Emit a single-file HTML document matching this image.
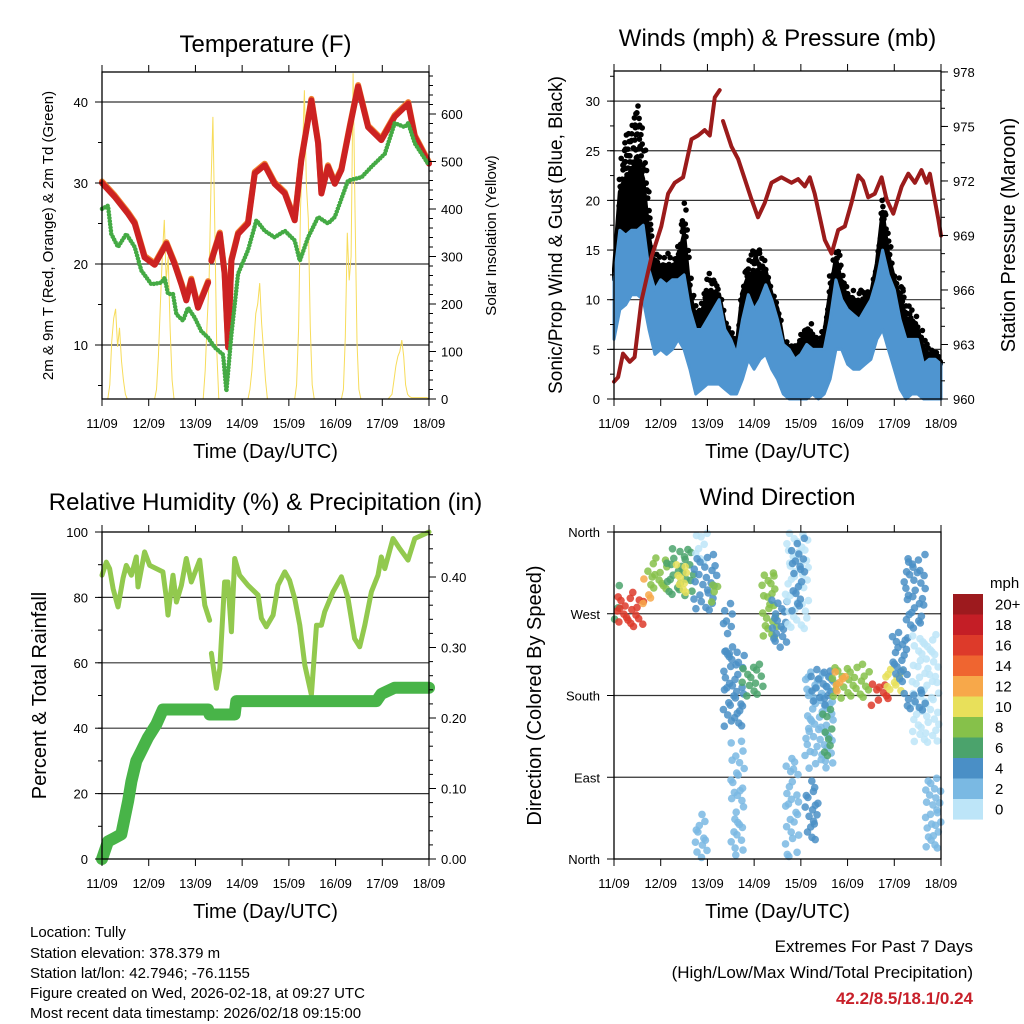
<!DOCTYPE html>
<html><head><meta charset="utf-8">
<style>
html,body{margin:0;padding:0;background:#fff;}
svg{display:block;font-family:"Liberation Sans",Arial,sans-serif;}
</style></head>
<body>
<svg id="c" width="1024" height="1024" viewBox="0 0 1024 1024" xmlns="http://www.w3.org/2000/svg">
<rect width="1024" height="1024" fill="#fff"/>
<g id="g1"></g>
<g id="g2"></g>
<g id="g3"></g>
<g id="g4"></g>
<g id="gl"></g>
<g font-size="15" fill="#000">
<text x="30" y="937">Location: Tully</text>
<text x="30" y="958">Station elevation: 378.379 m</text>
<text x="30" y="978">Station lat/lon: 42.7946; -76.1155</text>
<text x="30" y="998">Figure created on Wed, 2026-02-18, at 09:27 UTC</text>
<text x="30" y="1018">Most recent data timestamp: 2026/02/18 09:15:00</text>
</g>
<g font-size="17" text-anchor="end">
<text x="973" y="952">Extremes For Past 7 Days</text>
<text x="973" y="978">(High/Low/Max Wind/Total Precipitation)</text>
<text x="973" y="1004" fill="#c8202a" font-weight="bold">42.2/8.5/18.1/0.24</text>
</g>
</svg>
<script>
const dayLabels = ["11/09","12/09","13/09","14/09","15/09","16/09","17/09","18/09"];
const tempHour = [0,6.5,13.4,16.8,21.9,27.1,33.1,37.3,40.8,43.3,45.9,49.3,54.5,55.3,56.2,60.5,63,64.8,66.5,69.9,75,78.5,83.6,88.7,93.9,99,102.4,107.6,111,112.7,116.1,119.6,123,127.3,131.6,136.7,143.5,150.4,157.3,160.7,168];
const tempVal = [30,28.3,26.2,25,20.8,19.9,22.5,20,17.5,15.5,18,14.6,17.7,null,20.4,23.7,18.8,9.7,20.4,23.7,25,31.2,32.2,29.9,28.7,25.4,32.8,40.2,34.9,28.7,32,29.9,31.6,36.9,41.9,36.9,35.3,38.2,39.8,35.7,32.4];
const dewHour = [0,3.1,4.8,8.2,12.5,16.8,20.2,25.4,30.5,32.2,33.9,36.5,38.2,41.6,44.2,47.6,51,54.5,57.9,62.2,63.9,66.5,69.9,75,79.3,83.6,88.7,93.9,99,101.6,105.9,111,116.1,119.6,126.4,133.3,138.4,145.3,150.4,155.5,157.3,160.7,168];
const dewVal = [26.8,27.2,23.7,22.1,23.7,22.1,19.2,17.5,17.7,18.3,16.3,16.3,13.8,13,14.6,13.4,11.7,10.9,9.7,8.8,4.3,11.3,18.8,21.7,25.4,24.1,23.3,24.1,22.9,20.4,23.3,25.8,25,25.8,30.3,30.7,32,33.6,37.4,36.9,37.4,34.9,32.2];
const solar = [
0,0,0,0,30,120,170,190,110,150,80,40,10,0,0,0,0,0,0,0,0,0,0,0,
0,0,0,0,20,90,200,300,377,250,300,150,40,0,0,0,0,0,0,0,0,0,0,0,
0,0,0,0,0,60,160,250,450,594,350,100,0,0,0,0,0,0,0,0,0,0,0,0,
0,0,0,0,20,60,120,180,200,244,160,100,40,0,0,0,0,0,0,0,0,0,0,0,
0,0,0,0,30,150,400,520,650,450,380,150,30,0,0,0,0,0,0,0,0,0,0,0,
0,0,0,0,20,130,350,250,300,686,400,120,20,0,0,0,0,0,0,0,0,0,0,0,
0,0,0,0,5,10,40,70,90,100,124,90,30,10,5,3,3,3,3,3,3,3,3,3,
0];
const windLo = [6,9,9.5,10.5,10.5,10,7,4.5,5,4.5,5,6,5,3,0.5,1,1.5,1.5,1.5,1,0.5,0.5,2,4,3,4,4.5,3,2,0.5,0,0,0,0,0.5,0,0.5,2,5,5,3.5,3,3,3.5,4,6,7,5,3,1,0,0.5,0.5,0,0,0,0];
const windHi = [12,17,16.5,17,17,17.5,13,11,12,11.5,12,12,12.5,9,7,7,8,9,10,7,6,4.5,8,10.5,9,10,11.5,10,8,5.5,5,4,4.5,5.5,5,5,5,8,12,10,9,8.5,8,9,10,12,15,12.5,11,8,6,6,6,3.5,4,4,3.5];
const gustHi = [14,24,27,28,30,26,19,15,14,15,14,16,20,12,9,10,13,12,11,8,7,6,13,14,16,15,14,11,10,6,5.5,6,7,8,7.5,6,8,13,16,13,11,11,11,11,11,15,22,16,13,12,10,9,8,6,5,5,4];
const presHour = [0,2.1,4.6,8.1,10.6,14.1,19.2,24.3,27.8,31.2,35.5,39.8,43.2,46.6,49.2,51.8,54.3,55,56,60.3,63.8,67.2,70.6,74,77.5,80.9,86,91.2,94.6,98,100.6,103.1,108.3,111.8,115.2,118.6,122,125.5,128,130.6,134,137.5,140,143.5,147.8,151.2,154.6,158,160.6,162.3,166.6,168];
const presVal = [960.95,961.2,962.5,962.05,962.3,965.4,967.8,969.5,971.3,971.9,972.2,974.3,974.5,974.8,974.5,976.6,977.0,null,975.3,973.9,973.2,972.1,971,970,970.8,971.9,972.2,971.9,972.1,971.7,972.2,971.3,968.75,968,969.3,969.5,970.8,972.3,972,971.1,971.3,972.2,971,970.2,971.7,972.4,971.9,972.6,971.9,972.4,969.9,969];
const rhHour = [0,2.2,3.9,5.7,8.2,10.8,12.5,15.1,17.6,18.5,21.9,24.5,27.9,31.3,33.1,33.9,36.5,38.2,40.8,43.3,45.9,50.2,52.8,55.3,55.8,56.2,58.8,60.5,63,64.7,66.5,68.2,70.7,75,80.2,81.9,84.4,87.9,90.4,93.9,96.4,99,101.6,104.2,107.6,110.2,112.7,114.4,118.7,123,126.4,129.8,132.4,135,138.4,141.8,143.5,145.3,149.5,153,157.2,160.7,168];
const rhVal = [86.8,90.8,88.8,82.7,77.1,85.8,89.8,86.8,92.4,83.2,93.9,89.8,88.8,87.8,79.7,74.6,86.8,78.6,83.7,91.9,84.7,91.4,77.6,73,null,62.9,52.2,58.3,84.7,84.7,69.5,91.9,86.8,83.7,80.7,73.6,71,74.6,83.7,87.8,85.2,79.7,71.5,59.3,50.2,71.5,71.5,75.6,81.7,86.3,79.7,67.4,64.9,71.5,81.7,86.8,92.4,88.8,98,94.9,91.4,98,100];
const rainHour = [0,3.1,6.5,9.9,13.4,15.1,17.6,20.2,23.6,27.9,31.3,54.5,55.3,68.2,69,141,143.5,150.4,168];
const rainVal = [0,0.025,0.03,0.035,0.082,0.11,0.139,0.153,0.172,0.191,0.212,0.212,0.205,0.205,0.224,0.224,0.234,0.243,0.243];
const dirT0 = [0,1,14,17,27,32,41,41,50,56,56,60,41,65,76,81,88,91,88,98,98,101,112,112,132,139,143,149,153,160,149,107];
const dirT1 = [3,16,19,28,41,38,48,53,55,61,67,67,48,77,84,89,100,98,95,113,105,113,132,119,141,149,151,160,167,168,160,112];
const dirD0 = [268,259,283,298,294,294,331,276,287,228,148,8,0,181,247,236,258,276,0,104,23,173,181,188,173,188,195,257,129,16,166,118];
const dirD1 = [298,289,305,327,338,320,360,331,305,283,228,126,45,210,312,283,360,349,111,203,82,206,210,203,192,206,246,331,243,85,184,162];
const dirSpd = [7,17,12,8,7,10,1,4,8,5,4,2,2,7,8,4,1,4,2,3,4,4,8,12,16,10,5,4,1,3,4,6];
const legendLabels = ["20+","18","16","14","12","10","8","6","4","2","0"];
const legendColors = ["#9d1a1e","#c41e26","#dd3a2a","#ef6530","#f7a84a","#e8e05a","#86c14a","#4ba36c","#4a8fc6","#7ab9e3","#bde5f8"];

const JIT=[0.1,0.7,0.35,0.9,0.55,0.2,0.8,0.45,0.05,0.6,0.3,0.95];
const NS="http://www.w3.org/2000/svg";
function mk(parent,tag,attrs,text){const e=document.createElementNS(NS,tag);for(const k in attrs)e.setAttribute(k,attrs[k]);if(text!==undefined)e.textContent=text;parent.appendChild(e);return e;}
function spdColor(s){let i=Math.min(10,Math.floor(s/2));return legendColors[10-i];}
function pathFrom(xs,ys,fx,fy){let d="",pen=false;for(let i=0;i<xs.length;i++){if(ys[i]===null){pen=false;continue;}d+=(pen?"L":"M")+fx(xs[i]).toFixed(1)+","+fy(ys[i]).toFixed(1);pen=true;}return d;}
function lerpArr(arr,t){const i=Math.min(arr.length-2,Math.floor(t/3));const f=(t-i*3)/3;return arr[i]+(arr[i+1]-arr[i])*f;}

function frame(g,P,cfg){
  cfg.grid.forEach(v=>{const l=mk(g,"line",{x1:P.L,x2:P.R,y1:cfg.yL(v),y2:cfg.yL(v),stroke:"#333","stroke-width":1.2});
    
    });
}
function axes(g,P,cfg){
  mk(g,"rect",{x:P.L,y:P.T,width:P.R-P.L,height:P.B-P.T,fill:"none",stroke:"#000","stroke-width":1.3});
  const xf=h=>P.L+h/168*(P.R-P.L);
  dayLabels.forEach((d,i)=>{const x=xf(i*24);
    mk(g,"line",{x1:x,x2:x,y1:P.B,y2:P.B+7,stroke:"#000"});
    mk(g,"line",{x1:x,x2:x,y1:P.T,y2:P.T-7,stroke:"#000"});
    const t=mk(g,"text",{x:x,y:P.B+29,"font-size":13,"text-anchor":"middle"},d);
    
    });
  const xt=mk(g,"text",{x:(P.L+P.R)/2,y:P.B+59,"font-size":20,"text-anchor":"middle"},"Time (Day/UTC)");
  
  
  cfg.lMinor.forEach(v=>mk(g,"line",{x1:P.L,x2:P.L-4,y1:cfg.yL(v),y2:cfg.yL(v),stroke:"#000"}));
  cfg.lMajor.forEach((v,i)=>{const y=cfg.yL(v);mk(g,"line",{x1:P.L,x2:P.L-7,y1:y,y2:y,stroke:"#000"});
    const t=mk(g,"text",{x:P.L-14,y:y+5,"font-size":13,"text-anchor":"end"},cfg.lLabels[i]);
    
    });
  if(cfg.yR){
    cfg.rMinor.forEach(v=>mk(g,"line",{x1:P.R,x2:P.R+4,y1:cfg.yR(v),y2:cfg.yR(v),stroke:"#000"}));
    cfg.rMajor.forEach((v,i)=>{const y=cfg.yR(v);mk(g,"line",{x1:P.R,x2:P.R+7,y1:y,y2:y,stroke:"#000"});
      const t=mk(g,"text",{x:P.R+12,y:y+5,"font-size":13},cfg.rLabels[i]);
      
      });
  }
  const tt=mk(g,"text",{x:(P.L+P.R)/2,y:cfg.titleY,"font-size":24,"text-anchor":"middle"},cfg.title);
  
  
  const lt=mk(g,"text",{transform:`translate(${cfg.lx},${(P.T+P.B)/2}) rotate(-90)`,"font-size":cfg.lfs,"text-anchor":"middle"},cfg.lTitle);
  
  
  if(cfg.rTitle){const rt=mk(g,"text",{transform:`translate(${cfg.rx},${(P.T+P.B)/2}) rotate(-90)`,"font-size":cfg.rfs,"text-anchor":"middle"},cfg.rTitle);
    
    }
}
function range(a,b,s){const r=[];for(let v=a;v<=b+1e-9;v+=s)r.push(+v.toFixed(4));return r;}

// ===== Panel 1 =====
(function(){
  const g=document.getElementById("g1");const P={L:102,R:429,T:72,B:399};
  const x=h=>P.L+h/168*(P.R-P.L), yT=v=>345-(v-10)*8.1, yS=v=>399-v*0.475;
  frame(g,P,{grid:[10,20,30,40],yL:yT});
  const sx=solar.map((_,i)=>i);
  const s=mk(g,"path",{d:pathFrom(sx,solar,x,yS),fill:"none",stroke:"#f7dc5a","stroke-width":1});
  
  
  const o=mk(g,"path",{d:pathFrom(tempHour,tempVal,x,v=>yT(v)-1.5),fill:"none",stroke:"#f08030","stroke-width":6,"stroke-linejoin":"round","stroke-linecap":"round"});
  
  
  const r=mk(g,"path",{d:pathFrom(tempHour,tempVal,x,yT),fill:"none",stroke:"#cc2222","stroke-width":6,"stroke-linejoin":"round","stroke-linecap":"round"});
  
  
  const d=mk(g,"path",{d:pathFrom(dewHour,dewVal,x,yT),fill:"none",stroke:"#44aa44","stroke-width":4.5,"stroke-dasharray":"0 3.2","stroke-linecap":"round"});
  
  
  axes(g,P,{yL:yT,lMajor:[10,20,30,40],lLabels:["10","20","30","40"],lMinor:range(5,40,5),
    yR:yS,rMajor:[0,100,200,300,400,500,600],rLabels:["0","100","200","300","400","500","600"],rMinor:range(0,680,20),
    title:"Temperature (F)",titleY:52,lTitle:"2m & 9m T (Red, Orange) & 2m Td (Green)",lx:53,lfs:15,
    rTitle:"Solar Insolation (Yellow)",rx:496,rfs:15});
})();

// ===== Panel 2 =====
(function(){
  const g=document.getElementById("g2");const P={L:614,R:941,T:71,B:399};
  const x=h=>P.L+h/168*(P.R-P.L), yW=v=>399-v*9.93, yP=p=>399-(p-960)*18.17;
  frame(g,P,{grid:[5,10,15,20,25,30],yL:yW});
  const n=windLo.length, th=windLo.map((_,i)=>i*3);
  const CF=0.55;
  let top=[],bot=[];
  for(let i=0;i<n;i++){const core=windHi[i]+(gustHi[i]-windHi[i])*CF;
    top.push(x(th[i]).toFixed(1)+","+yW(core).toFixed(1));bot.unshift(x(th[i]).toFixed(1)+","+yW(windHi[i]).toFixed(1));}
  const gb=mk(g,"polygon",{points:top.concat(bot).join(" "),fill:"#000",stroke:"#000","stroke-width":4,"stroke-linejoin":"round"});
  
  
  const gd=mk(g,"g",{fill:"#000"});
  
  
  let col=0;
  for(let t=0;t<=168;t+=0.9,col++){
    const wh=lerpArr(windHi,t), gh=lerpArr(gustHi,t);
    const core=wh+(gh-wh)*CF;
    const yTop=yW(gh), yBot=yW(core);
    let k=0;
    for(let y=yBot-JIT[col%12]*5;y>=yTop;y-=5+JIT[(col+k)%12]*4,k++){
      if((col+k)%3===0) continue;
      const c=mk(gd,"circle",{cx:(x(t)+JIT[(k+col*2)%12]*2).toFixed(1),cy:y.toFixed(1),r:2.8});
      
      
    }
  }
  top=[];bot=[];
  for(let i=0;i<n;i++){top.push(x(th[i]).toFixed(1)+","+yW(windHi[i]).toFixed(1));bot.unshift(x(th[i]).toFixed(1)+","+yW(windLo[i]).toFixed(1));}
  const wb=mk(g,"polygon",{points:top.concat(bot).join(" "),fill:"#4f95d0",stroke:"#4f95d0","stroke-width":3,"stroke-linejoin":"round"});
  
  
  const p=mk(g,"path",{d:pathFrom(presHour,presVal,x,yP),fill:"none",stroke:"#9b1b1b","stroke-width":4,"stroke-linejoin":"round","stroke-linecap":"round"});
  
  
  axes(g,P,{yL:yW,lMajor:[0,5,10,15,20,25,30],lLabels:["0","5","10","15","20","25","30"],lMinor:range(0,32.5,2.5),
    yR:yP,rMajor:[960,963,966,969,972,975,978],rLabels:["960","963","966","969","972","975","978"],rMinor:range(960,978,1),
    title:"Winds (mph) & Pressure (mb)",titleY:46,lTitle:"Sonic/Prop Wind & Gust (Blue, Black)",lx:562,lfs:19,
    rTitle:"Station Pressure (Maroon)",rx:1015,rfs:20});
})();

// ===== Panel 3 =====
(function(){
  const g=document.getElementById("g3");const P={L:102,R:429,T:532,B:859};
  const x=h=>P.L+h/168*(P.R-P.L), yH=v=>859-v*3.27, yR=v=>859-v*705;
  frame(g,P,{grid:[20,40,60,80],yL:yH});
  const r=mk(g,"path",{d:pathFrom(rhHour,rhVal,x,yH),fill:"none",stroke:"#92c94e","stroke-width":5,"stroke-linejoin":"round","stroke-linecap":"round"});
  
  
  const p=mk(g,"path",{d:pathFrom(rainHour,rainVal,x,yR),fill:"none",stroke:"#48b448","stroke-width":12,"stroke-linejoin":"round","stroke-linecap":"round"});
  
  
  axes(g,P,{yL:yH,lMajor:[0,20,40,60,80,100],lLabels:["0","20","40","60","80","100"],lMinor:range(0,100,10),
    yR:yR,rMajor:[0,0.1,0.2,0.3,0.4],rLabels:["0.00","0.10","0.20","0.30","0.40"],rMinor:range(0,0.46,0.02),
    title:"Relative Humidity (%) & Precipitation (in)",titleY:510,lTitle:"Percent & Total Rainfall",lx:46,lfs:20});
})();

// ===== Panel 4 =====
(function(){
  const g=document.getElementById("g4");const P={L:614,R:941,T:532,B:859};
  const x=h=>P.L+h/168*(P.R-P.L), yD=d=>859-d/360*327;
  frame(g,P,{grid:[90,180,270],yL:yD});
  const pts=mk(g,"g",{"fill-opacity":0.85});
  
  
  for(let c=0;c<dirT0.length;c++){
    const col=spdColor(dirSpd[c]);
    const span=dirT1[c]-dirT0[c], dspan=dirD1[c]-dirD0[c];
    const nx=Math.max(1,Math.round(span/2.2)), ny=Math.max(1,Math.round(dspan/9));
    for(let r=0;r<=ny;r++){
      for(let q=0;q<nx;q++){
        if(((r*3+q*5+c)%7)>=5) continue;
        const h=dirT0[c]+(q+JIT[(r+q+c)%12])*span/nx;
        const d=dirD0[c]+(r+JIT[(r*2+q+c)%12]-0.5)*dspan/ny;
        if(d<0||d>360) continue;
        const e=mk(pts,"circle",{cx:x(h).toFixed(1),cy:yD(d).toFixed(1),r:3.8,fill:col});
        
        
      }
    }
  }
  axes(g,P,{yL:yD,lMajor:[0,90,180,270,360],lLabels:["North","East","South","West","North"],lMinor:[],
    title:"Wind Direction",titleY:505,lTitle:"Direction (Colored By Speed)",lx:541,lfs:20});
})();

// ===== Legend =====
(function(){
  const g=document.getElementById("gl");
  const t=mk(g,"text",{x:990,y:588,"font-size":15},"mph");
  
  
  legendLabels.forEach((l,i)=>{
    const y=594+i*20.5;
    const r=mk(g,"rect",{x:953,y:y,width:30,height:20.6,fill:legendColors[i]});
    
    
    const tx=mk(g,"text",{x:995,y:y+15.5,"font-size":15},l);
    
    
  });
})();
</script>
</body></html>
